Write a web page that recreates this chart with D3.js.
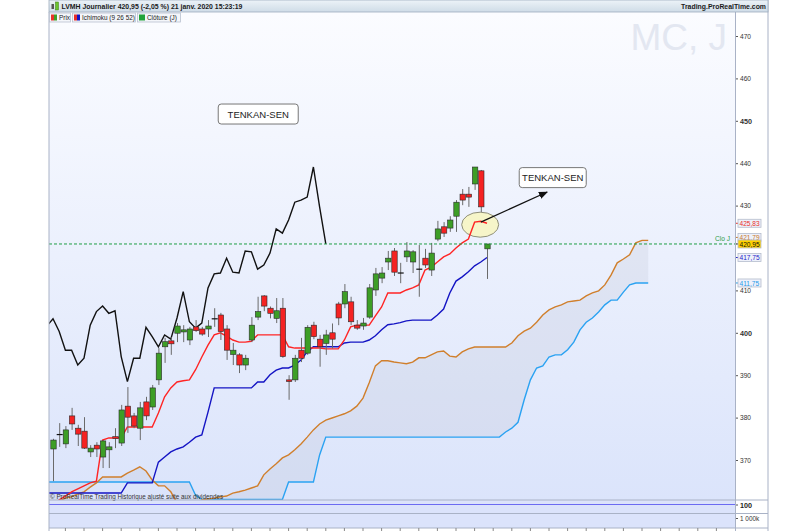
<!DOCTYPE html>
<html>
<head>
<meta charset="utf-8">
<script src="https://cdn.jsdelivr.net/npm/d3@7"></script>
<style>
  body { margin: 0; background: #fff; }
  text { font-family: "Liberation Sans", Arial, sans-serif; }
</style>
</head>
<body>
<div id="chart"></div>
<script>
// ---- data ----
// candles, index 0..70
const opens  = [372.6,376.0,373.8,380.4,377.5,376.8,371.9,373.5,370.7,372.4,375.5,374.0,382.7,380.4,377.5,383.7,382.5,388.9,396.7,398.1,
                399.9,400.2,398.3,401.4,400.9,400.9,403.3,404.2,400.9,394.9,394.8,392.4,398.3,403.7,408.7,405.8,403.4,405.8,388.9,388.9,
                395.9,395.2,401.8,398.5,397.5,400.0,406.8,406.8,407.3,401.8,401.6,403.7,410.1,412.9,416.7,419.3,414.1,417.9,416.7,415.0,
                417.6,414.8,422.1,425.0,424.7,427.5,432.7,432.7,435.1,438.2,419.8];
const highs  = [375.0,378.7,378.0,382.3,378.3,380.1,373.5,374.2,374.7,374.2,377.5,383.0,387.2,381.1,383.7,384.9,387.7,396.4,398.8,399.0,
                402.3,401.8,401.4,403.0,401.4,403.0,405.8,404.7,401.8,397.6,395.2,394.8,403.7,408.5,408.9,406.2,408.2,408.2,390.0,394.8,
                398.8,401.8,402.6,399.5,400.7,402.2,407.3,411.5,408.5,403.0,403.5,411.5,415.3,415.5,419.3,420.0,416.5,421.4,419.5,420.7,
                419.8,421.2,426.4,426.1,427.5,431.3,433.9,434.4,439.1,438.4,420.95];
const lows   = [365.0,373.1,372.8,377.1,373.3,372.6,370.7,370.7,368.1,368.1,372.8,373.3,376.4,377.5,374.7,379.4,381.8,387.7,392.9,394.8,
                397.8,397.8,397.1,400.2,399.3,399.0,401.4,398.3,393.6,392.4,390.5,391.2,397.8,403.0,405.1,403.4,402.3,394.1,384.2,388.4,
                393.1,394.8,398.5,392.0,394.8,396.3,401.8,405.8,401.8,400.7,400.7,403.3,408.7,411.7,414.8,413.4,411.7,416.7,414.1,408.5,
                415.3,413.4,421.6,422.6,423.8,423.8,430.1,429.7,433.7,428.5,412.7];
const closes = [374.7,376.0,377.1,378.5,376.1,372.8,372.8,372.6,374.5,373.1,375.1,381.8,380.1,378.0,382.3,380.4,387.0,395.2,397.9,397.4,
                401.6,400.7,400.9,400.5,399.7,401.6,403.3,400.3,395.9,395.9,392.4,394.0,401.8,405.0,406.3,404.6,405.2,394.4,388.5,394.0,
                394.0,401.3,399.1,396.7,399.5,398.5,403.5,409.7,402.6,401.1,402.3,410.6,413.9,414.1,417.6,414.3,414.1,419.3,419.1,415.0,
                416.0,418.8,424.5,423.5,426.6,430.8,431.3,432.0,439.1,429.7,420.95];

// Ichimoku lines, index -1..70
const tenkan = [358.5,359.4,360.6,361.5,362.5,363.2,363.9,364.6,365.0,374.7,375.2,375.2,375.2,377.8,377.8,377.8,377.8,377.8,381.1,384.9,
                387.0,388.4,388.7,388.9,391.3,394.3,397.1,399.5,400.0,399.2,398.3,397.8,397.8,398.0,399.5,399.5,399.5,399.5,399.5,396.7,
                396.4,396.4,396.4,396.4,396.4,396.2,396.2,396.2,398.3,401.4,401.8,401.8,401.8,404.0,406.1,409.4,409.4,409.4,410.1,410.6,
                411.3,414.8,415.5,416.7,417.9,418.6,420.0,421.2,422.1,426.1,426.3,425.83];
const kijun  = [362.2,362.2,362.2,362.2,362.2,362.2,362.2,362.2,362.2,362.2,362.2,362.2,362.2,364.6,364.6,364.6,364.6,364.6,369.5,370.7,
                371.9,372.6,373.1,374.2,375.4,375.9,381.3,387.0,387.0,387.0,387.0,387.0,387.0,387.0,388.4,388.4,390.1,391.2,391.7,391.7,
                392.4,393.6,395.5,396.7,396.7,396.7,396.7,396.7,397.6,397.8,397.8,397.8,398.3,399.3,400.7,401.9,402.1,402.4,402.8,403.0,
                403.0,403.0,403.0,404.2,405.6,409.4,412.2,413.2,414.4,415.8,416.7,417.75];
// Senkou spans, index -1..96
const senkouA = [359.4,359.4,360.3,361.0,361.3,362.0,362.5,363.6,364.6,366.0,366.0,366.0,366.0,366.9,367.6,368.4,367.4,365.3,363.9,363.9,
                 362.5,359.9,358.7,358.7,358.7,360.6,360.8,361.0,361.3,361.5,362.2,362.5,362.9,363.4,363.9,366.5,367.9,369.1,370.5,371.2,
                 372.4,373.8,375.4,377.1,378.5,379.4,379.9,380.4,380.9,381.6,382.7,384.6,388.2,392.2,393.4,393.4,393.1,392.9,392.7,393.1,
                 394.1,394.1,394.8,395.5,395.7,394.5,394.3,395.5,396.2,396.65,396.65,396.65,396.65,396.65,396.65,397.6,399.3,400.4,401.1,402.5,
                 404.2,405.4,406.1,406.6,407.3,407.5,407.7,408.7,409.4,409.9,411.3,413.6,416.5,417.4,418.4,421.2,421.79,421.79];
const senkouB = [364.8,364.8,364.8,364.8,364.8,364.8,364.8,364.8,364.8,364.8,364.8,364.8,364.8,364.8,364.8,364.8,364.8,364.8,364.8,364.8,
                 364.8,364.8,364.8,364.8,361.7,360.7,360.7,360.7,360.7,360.7,360.7,360.7,360.7,360.7,360.7,360.7,360.7,360.7,360.7,364.8,
                 364.8,364.8,364.8,364.8,371.2,375.4,375.4,375.4,375.4,375.4,375.4,375.4,375.4,375.4,375.4,375.4,375.4,375.4,375.4,375.4,
                 375.4,375.4,375.4,375.4,375.4,375.4,375.4,375.4,375.4,375.4,375.4,375.4,375.4,375.4,376.6,377.5,378.9,384.2,388.9,391.7,
                 392.2,394.3,394.8,394.8,396.0,397.8,400.7,402.5,403.5,404.9,406.6,407.7,407.7,409.6,411.3,411.75,411.75,411.75];
const chikouShift = 26;
const lastClose = 420.95;

const yTicks = [370, 380, 390, 400, 410, 430, 440, 450, 460, 470];
const boldTicks = [400, 450];
const priceTags = [
  {v: 425.83, txt: "425,83", col: "#e8302a", fill: "#eef1fa", dy: 0},
  {v: 421.79, txt: "421,79", col: "#c9782c", fill: "#eef1fa", dy: -3},
  {v: 420.95, txt: "420,95", col: "#111111", fill: "#ffd200", dy: 0},
  {v: 417.75, txt: "417,75", col: "#2424c8", fill: "#eef1fa", dy: 0},
  {v: 411.75, txt: "411,75", col: "#1f9ae8", fill: "#eef1fa", dy: 0}
];
// annotations in chart coords (bar index, price)
const notes = [
  {i: 33.1, v: 451.6, txt: "TENKAN-SEN", w: 80},
  {i: 80.6, v: 436.6, txt: "TENKAN-SEN", w: 67}
];
const circleNote = {i: 68.9, v: 425.5};
const arrowNote = {from: [69.0, 426.1], to: [79.7, 433.2]};

// ---- layout ----
const W = 800, H = 531;
const pL = 49, pR = 735, pT = 12, pB = 500, outerR = 768;

const svg = d3.select("#chart").append("svg").attr("width", W).attr("height", H);
const defs = svg.append("defs");

const bg = defs.append("linearGradient").attr("id", "bg").attr("x1", 0).attr("x2", 0).attr("y1", 0).attr("y2", 1);
bg.append("stop").attr("offset", "0%").attr("stop-color", "#fbfcff");
bg.append("stop").attr("offset", "100%").attr("stop-color", "#dbe4fb");
const hg = defs.append("linearGradient").attr("id", "hg").attr("x1", 0).attr("x2", 0).attr("y1", 0).attr("y2", 1);
hg.append("stop").attr("offset", "0%").attr("stop-color", "#edf3f8");
hg.append("stop").attr("offset", "100%").attr("stop-color", "#cfdce7");
defs.append("clipPath").attr("id", "clip").append("rect")
  .attr("x", pL).attr("y", pT).attr("width", pR - pL).attr("height", pB - pT);
defs.append("marker").attr("id", "arr").attr("viewBox", "0 0 10 10").attr("refX", 9).attr("refY", 5)
  .attr("markerWidth", 7).attr("markerHeight", 7).attr("orient", "auto")
  .append("path").attr("d", "M0,1 L10,5 L0,9 z").attr("fill", "#111");

const x = d3.scaleLinear().domain([0, 70]).range([53, 487]);
const y = d3.scaleLinear().domain([360, 470]).range([502.4, 36]);

// panels
svg.append("rect").attr("x", pL).attr("y", pT).attr("width", pR - pL).attr("height", pB - pT).attr("fill", "url(#bg)");
svg.append("rect").attr("x", pL).attr("y", pB).attr("width", pR - pL).attr("height", 28).attr("fill", "#dbe3fb");

// watermark
svg.append("text").attr("x", 727).attr("y", 50).attr("text-anchor", "end")
  .attr("font-size", 37).attr("fill", "#e3e7f1").text("MC, J");

const plot = svg.append("g").attr("clip-path", "url(#clip)");

// cloud
const cloud = senkouA.map((a, k) => ({i: k - 1, a: a, b: senkouB[k]}));
plot.append("path").datum(cloud)
  .attr("fill", "#b4b8cc").attr("fill-opacity", 0.2)
  .attr("d", d3.area().x(d => x(d.i)).y0(d => y(d.a)).y1(d => y(d.b)));

// ellipse highlight
plot.append("ellipse").attr("cx", x(circleNote.i)).attr("cy", y(circleNote.v))
  .attr("rx", 18.5).attr("ry", 12.5).attr("fill", "#f6f5c9").attr("stroke", "#8f8f7a").attr("stroke-width", 1);

const line = d3.line().x(d => x(d.i)).y(d => y(d.v));
function series(arr, start) { return arr.map((v, k) => ({i: k + start, v: v})); }

plot.append("path").datum(series(senkouB, -1)).attr("fill", "none").attr("stroke", "#2aa2f2").attr("stroke-width", 1.4).attr("d", line);
plot.append("path").datum(series(senkouA, -1)).attr("fill", "none").attr("stroke", "#d07f2c").attr("stroke-width", 1.4).attr("d", line);

const chikou = closes.map((c, k) => ({i: k - chikouShift, v: c})).filter(d => d.i >= -1);
plot.append("path").datum(chikou).attr("fill", "none").attr("stroke", "#111").attr("stroke-width", 1.4).attr("d", line);
plot.append("path").datum(series(kijun, -1)).attr("fill", "none").attr("stroke", "#1414c4").attr("stroke-width", 1.4).attr("d", line);
plot.append("path").datum(series(tenkan, -1)).attr("fill", "none").attr("stroke", "#ff2424").attr("stroke-width", 1.4).attr("d", line);

// candles
const candles = closes.map((c, i) => ({i: i, o: opens[i], h: highs[i], l: lows[i], c: c}));
const cg = plot.append("g");
cg.selectAll("line.wick").data(candles).join("line").attr("class", "wick")
  .attr("x1", d => x(d.i) + 0.5).attr("x2", d => x(d.i) + 0.5)
  .attr("y1", d => y(d.h)).attr("y2", d => y(d.l))
  .attr("stroke", "#6a6a6a").attr("stroke-width", 1);
cg.selectAll("rect.body").data(candles.filter(d => d.o !== d.c)).join("rect").attr("class", "body")
  .attr("x", d => x(d.i) - 2.2).attr("width", 5.4)
  .attr("y", d => y(Math.max(d.o, d.c)))
  .attr("height", d => Math.max(1.2, Math.abs(y(d.o) - y(d.c))))
  .attr("fill", d => d.c > d.o ? "#3d9e26" : "#f52222")
  .attr("stroke", "#2a2a2a").attr("stroke-width", 0.6);
cg.selectAll("line.doji").data(candles.filter(d => d.o === d.c)).join("line").attr("class", "doji")
  .attr("x1", d => x(d.i) - 2.5).attr("x2", d => x(d.i) + 3.5)
  .attr("y1", d => y(d.c)).attr("y2", d => y(d.c))
  .attr("stroke", "#111").attr("stroke-width", 1.2);

// last close dashed line
svg.append("line").attr("x1", pL).attr("x2", pR).attr("y1", y(lastClose)).attr("y2", y(lastClose))
  .attr("stroke", "#1f9e45").attr("stroke-width", 1).attr("stroke-dasharray", "3,2");
svg.append("text").attr("x", 730).attr("y", y(lastClose) - 2.5).attr("text-anchor", "end")
  .attr("font-size", 6.6).attr("fill", "#2a9d4a").text("Clo J");

// arrow + note boxes
svg.append("line")
  .attr("x1", x(arrowNote.from[0])).attr("y1", y(arrowNote.from[1]))
  .attr("x2", x(arrowNote.to[0])).attr("y2", y(arrowNote.to[1]))
  .attr("stroke", "#111").attr("stroke-width", 1.3).attr("marker-end", "url(#arr)");
const ng = svg.selectAll("g.note").data(notes).join("g").attr("class", "note")
  .attr("transform", d => `translate(${x(d.i)},${y(d.v)})`);
ng.append("rect").attr("x", d => -d.w / 2).attr("y", -10).attr("width", d => d.w).attr("height", 20)
  .attr("rx", 3).attr("fill", "#fff").attr("stroke", "#777").attr("stroke-width", 1);
ng.append("text").attr("text-anchor", "middle").attr("y", 3.5).attr("font-size", 9.5).attr("fill", "#222").text(d => d.txt);

// copyright
svg.append("text").attr("x", 50).attr("y", 499).attr("font-size", 6.3).attr("fill", "#333")
  .text("\u00a9 ProRealTime Trading  Historique ajust\u00e9 suite aux dividendes");

// sub panels
svg.append("line").attr("x1", pL).attr("x2", pR).attr("y1", 504.5).attr("y2", 504.5).attr("stroke", "#6b6bf2").attr("stroke-width", 1.2);
[pB, 513.5, 528].forEach(v => svg.append("line").attr("x1", pL).attr("x2", outerR).attr("y1", v).attr("y2", v)
  .attr("stroke", "#a9b2c6").attr("stroke-width", 1));

// price axis
const axis = svg.append("g").attr("transform", `translate(${pR},0)`)
  .call(d3.axisRight(y).tickValues(yTicks).tickSize(3).tickPadding(2).tickFormat(d3.format("d")));
axis.select(".domain").remove();
axis.selectAll(".tick line").attr("stroke", "#555");
axis.selectAll(".tick text").attr("fill", "#333")
  .attr("font-family", "Liberation Sans, Arial, sans-serif")
  .attr("font-weight", d => boldTicks.includes(d) ? "bold" : "normal")
  .attr("font-size", d => boldTicks.includes(d) ? 7.2 : 6.6);

// price tags
const tg = svg.selectAll("g.tag").data(priceTags).join("g").attr("class", "tag")
  .attr("transform", d => `translate(${pR},${y(d.v) + d.dy})`);
tg.append("line").attr("x1", 0).attr("x2", 3).attr("stroke", d => d.col);
tg.append("rect").attr("x", 3).attr("y", -4).attr("width", 23).attr("height", 8)
  .attr("fill", d => d.fill).attr("stroke", "#b4bccc").attr("stroke-width", 0.8);
tg.append("text").attr("x", 4.5).attr("y", 2.6).attr("font-size", 6.6).attr("fill", d => d.col).text(d => d.txt);

// sub-panel labels
svg.append("line").attr("x1", pR).attr("x2", pR + 3).attr("y1", 505).attr("y2", 505).attr("stroke", "#555");
svg.append("text").attr("x", 740).attr("y", 507.8).attr("font-size", 7.2).attr("font-weight", "bold").attr("fill", "#222").text("100");
svg.append("line").attr("x1", pR).attr("x2", pR + 3).attr("y1", 518.5).attr("y2", 518.5).attr("stroke", "#555");
svg.append("text").attr("x", 740).attr("y", 521).attr("font-size", 6.4).attr("fill", "#333").text("1 000k");

// time ticks
svg.selectAll("line.xt").data(d3.range(2, 108, 3)).join("line").attr("class", "xt")
  .attr("x1", d => x(d)).attr("x2", d => x(d)).attr("y1", 528).attr("y2", 531)
  .attr("stroke", "#888").attr("stroke-width", 1);

// frame
svg.append("line").attr("x1", pL).attr("x2", pL).attr("y1", pT).attr("y2", 531).attr("stroke", "#a9b2c6");
svg.append("line").attr("x1", pR + 0.5).attr("x2", pR + 0.5).attr("y1", pT).attr("y2", 531).attr("stroke", "#a9b2c6");
svg.append("line").attr("x1", outerR).attr("x2", outerR).attr("y1", 0).attr("y2", 531).attr("stroke", "#a9b2c6");

// header bar
svg.append("rect").attr("x", pL).attr("y", 0).attr("width", outerR - pL).attr("height", pT)
  .attr("fill", "url(#hg)").attr("stroke", "#9eadbd").attr("stroke-width", 0.8);
svg.append("rect").attr("x", 51.5).attr("y", 4).attr("width", 2.5).attr("height", 5).attr("fill", "#555");
svg.append("rect").attr("x", 55.5).attr("y", 2).attr("width", 3).attr("height", 8).attr("fill", "#6cc32e").attr("stroke", "#3c7a1a").attr("stroke-width", 0.5);
svg.append("text").attr("x", 61.5).attr("y", 9).attr("font-size", 6.9).attr("font-weight", "bold").attr("fill", "#1a1a1a")
  .text("LVMH Journalier 420,95 (-2,05 %) 21 janv. 2020 15:23:19");
svg.append("text").attr("x", 766).attr("y", 9).attr("text-anchor", "end").attr("font-size", 6.9).attr("font-weight", "bold").attr("fill", "#1a1a1a")
  .text("Trading.ProRealTime.com");

// legend row
const legend = [
  {x0: 49.5, w: 21, txt: "Prix", c1: "#e8302a", c2: "#3d9e26"},
  {x0: 72.5, w: 63, txt: "Ichimoku (9 26 52)", c1: "#e8302a", c2: "#1414c4"},
  {x0: 137.5, w: 43, txt: "Cl\u00f4ture (J)", c1: "#22a33a", c2: "#22a33a"}
];
const lg = svg.selectAll("g.leg").data(legend).join("g").attr("class", "leg")
  .attr("transform", d => `translate(${d.x0},13)`);
lg.append("rect").attr("width", d => d.w).attr("height", 9).attr("fill", "#f4f6fa").attr("stroke", "#b9c1cf").attr("stroke-width", 0.8);
lg.append("rect").attr("x", 1.5).attr("y", 1.5).attr("width", 3).attr("height", 6).attr("fill", d => d.c1);
lg.append("rect").attr("x", 4.5).attr("y", 1.5).attr("width", 3).attr("height", 6).attr("fill", d => d.c2);
lg.append("text").attr("x", 9.5).attr("y", 7).attr("font-size", 6.4).attr("fill", "#222").text(d => d.txt);
</script>
</body>
</html>
